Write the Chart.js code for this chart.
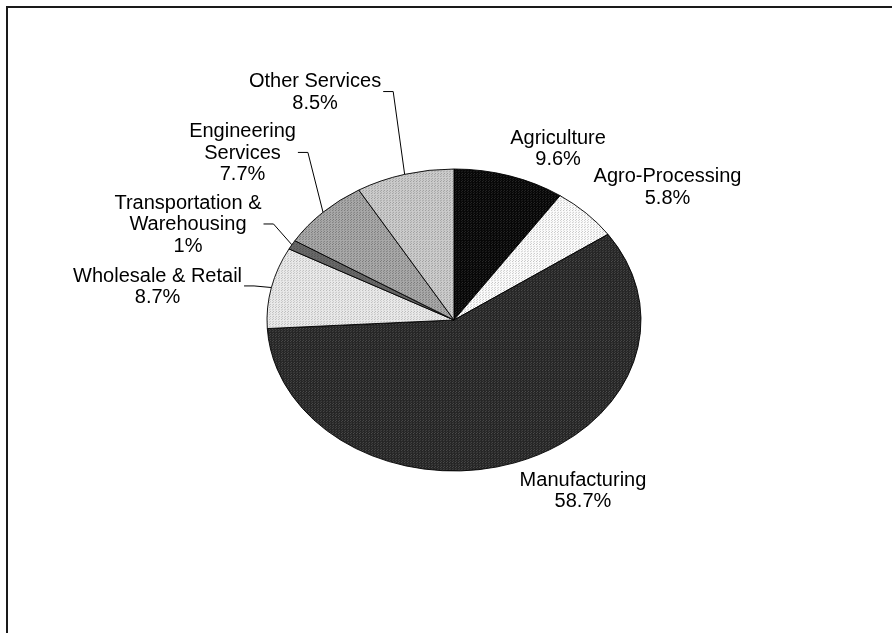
<!DOCTYPE html>
<html><head><meta charset="utf-8">
<script src="https://cdn.jsdelivr.net/npm/chart.js@4.4.0/dist/chart.umd.min.js"></script>
<style>html,body{margin:0;padding:0;background:#fff;overflow:hidden}canvas{display:block}</style>
</head><body>
<canvas id="c" width="892" height="633"></canvas>
<script>
// ---- data ----
const categories = ["Agriculture","Agro-Processing","Manufacturing","Wholesale & Retail","Transportation & Warehousing","Engineering Services","Other Services"];
const shares = [9.6, 5.8, 58.7, 8.7, 1, 7.7, 8.5];
const labelLines = [["Agriculture"],["Agro-Processing"],["Manufacturing"],["Wholesale & Retail"],["Transportation &","Warehousing"],["Engineering","Services"],["Other Services"]];
const valueLabels = shares.map(v => v + "%");

// ---- layout / style ----
const PIE = {cx:454, cy:320, rx:187, ry:151};
const labelShift = [[48.5,-26.8],[81.3,-25.7],[68.4,28.1],[-113.8,-0.6],[-103.9,-19.8],[-80.5,-58.8],[-89.6,-81.8]];
const fillSpec = [["#070707","#2a2a2a"],["#fbfbfb","#c4c4c4"],["#262626","#4c4c4c"],["#e9e9e9","#bababa"],["#686868","#505050"],["#a8a8a8","#777777"],["#cbcbcb","#9c9c9c"]];
const FONT = '20px "Liberation Sans", Arial, sans-serif';
const LH = 21.5;

function pat(base, dot){
  const c=document.createElement('canvas'); c.width=c.height=3;
  const x=c.getContext('2d'); x.fillStyle=base; x.fillRect(0,0,3,3);
  x.fillStyle=dot; x.fillRect(0,0,1,1); x.fillRect(2,1,1,1);
  return x.createPattern(c,'repeat');
}
const fills = fillSpec.map(s => pat(s[0], s[1]));
const K = PIE.ry / PIE.rx;

const framePlugin = {
  id:'frame',
  beforeDraw(chart){
    const c=chart.ctx; c.save();
    c.fillStyle='#fff'; c.fillRect(0,0,chart.width,chart.height);
    c.strokeStyle='#1a1a1a'; c.lineWidth=2;
    c.strokeRect(7,7,1200,1200);
    c.restore();
  }
};
const ellipsePlugin = {
  id:'ellipse',
  beforeDatasetsDraw(chart){
    const a=chart.getDatasetMeta(0).data[0]; const c=chart.ctx;
    c.save(); c.translate(a.x,a.y); c.scale(1,K); c.translate(-a.x,-a.y);
  },
  afterDatasetsDraw(chart){ chart.ctx.restore(); }
};
const labelPlugin = {
  id:'labels',
  afterDatasetsDraw(chart){
    const c=chart.ctx; const arcs=chart.getDatasetMeta(0).data;
    c.save(); c.font=FONT; c.fillStyle='#000'; c.textAlign='center'; c.textBaseline='middle';
    arcs.forEach((a,i)=>{
      const mid=(a.startAngle+a.endAngle)/2, R=a.outerRadius;
      const px=a.x+R*Math.cos(mid), py=a.y+R*K*Math.sin(mid);
      const cx=px+labelShift[i][0], cy=py+labelShift[i][1];
      const lines=labelLines[i].concat([valueLabels[i]]);
      const w=Math.max(...lines.map(t=>c.measureText(t).width)), h=lines.length*LH;
      lines.forEach((t,j)=>c.fillText(t, cx, cy-(lines.length-1)*LH/2+j*LH));
      const l=cx-w/2, r=cx+w/2, tp=cy-h/2, bt=cy+h/2;
      const dx=Math.max(l-px,0,px-r), dy=Math.max(tp-py,0,py-bt);
      if(Math.hypot(dx,dy)>15){
        c.beginPath(); c.strokeStyle='#000'; c.lineWidth=1;
        c.moveTo(r+2, cy-1); c.lineTo(r+12, cy-1); c.lineTo(px, py); c.stroke();
      }
    });
    c.restore();
  }
};

new Chart(document.getElementById('c').getContext('2d'), {
  type:'pie',
  data:{labels:categories, datasets:[{data:shares, backgroundColor:fills, borderColor:'#000', borderWidth:1, radius:PIE.rx}]},
  options:{responsive:false, animation:false, devicePixelRatio:1,
    layout:{padding:{left:PIE.cx-394, right:892-PIE.cx-394, top:PIE.cy-300, bottom:633-PIE.cy-300}},
    plugins:{legend:{display:false}, tooltip:{enabled:false}}},
  plugins:[framePlugin, ellipsePlugin, labelPlugin]
});
</script>
</body></html>
